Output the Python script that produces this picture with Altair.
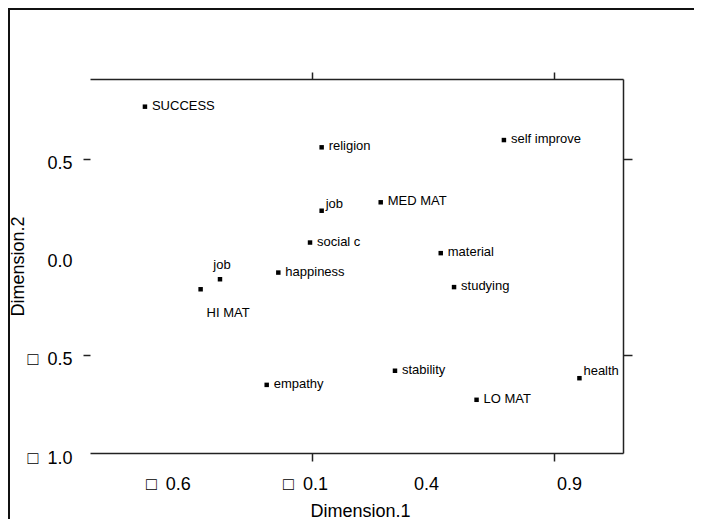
import altair as alt
import pandas as pd

labels = ["SUCCESS", "religion", "job", "social c", "happiness", "job", "HI MAT",
          "self improve", "MED MAT", "material", "studying", " stability", " LO MAT",
          "health", "empathy"]
dim1 = [-0.790, -0.060, -0.060, -0.108, -0.239, -0.480, -0.560,
        0.693, 0.184, 0.432, 0.487, 0.243, 0.580, 1.005, -0.287]
dim2 = [0.764, 0.557, 0.234, 0.072, -0.081, -0.115, -0.166,
        0.594, 0.277, 0.018, -0.155, -0.581, -0.729, -0.619, -0.653]
x_ticks = [-0.6, -0.1, 0.4, 0.9]
y_ticks = [0.5, 0.0, -0.5, -1.0]
x_marked = [-0.1, 0.9]
y_marked = [0.5, -0.5]

special = {2: "upright", 13: "upright", 5: "above", 6: "below"}
df = pd.DataFrame({"label": labels, "dim1": dim1, "dim2": dim2})
df["place"] = [special.get(i, "right") for i in range(len(df))]

FONT = "Liberation Sans"
INK = "#222222"
xs = alt.Scale(domain=[-1.017, 1.185], nice=False, zero=False)
ys = alt.Scale(domain=[-1.0, 0.905], nice=False, zero=False)

lab_expr = "(datum.value < 0 ? '\u25a1\u2002' : '') + format(abs(datum.value), '.1f')"

bottom_axis = alt.Axis(
    orient="bottom", values=x_ticks, grid=False,
    domain=True, domainColor=INK, domainWidth=1.5,
    ticks=True, tickColor=INK, tickWidth=1.5, tickSize=8,
    tickOpacity={"condition": {"test": "abs(datum.value + 0.1) < 0.01 || abs(datum.value - 0.9) < 0.01", "value": 1}, "value": 0},
    labelExpr=lab_expr, labelFont=FONT, labelFontSize=18, labelColor="black",
    labelPadding=14, labelFlush=False, labelOverlap=False,
    labelOffset={"condition": [{"test": "datum.value < -0.3", "value": -23},
                               {"test": "datum.value > 0.6", "value": 15}], "value": -7},
    title="Dimension.1", titleFont=FONT, titleFontSize=18, titleFontWeight="normal",
    titleColor="black", titleX=270, titleY=63, titleBaseline="alphabetic", titleAlign="center",
)
left_axis = alt.Axis(
    orient="left", values=y_ticks, grid=False,
    domain=False,
    ticks=True, tickColor=INK, tickWidth=1.5, tickSize=7,
    tickOpacity={"condition": {"test": "abs(abs(datum.value) - 0.5) < 0.01", "value": 1}, "value": 0},
    labelExpr=lab_expr, labelFont=FONT, labelFontSize=18, labelColor="black",
    labelPadding=11, labelOffset=5, labelFlush=False, labelOverlap=False,
    title="Dimension.2", titleFont=FONT, titleFontSize=18, titleFontWeight="normal",
    titleColor="black", titleX=-72, titleY=187, titleAngle=270,
    titleBaseline="middle", titleAlign="center",
)
top_axis = alt.Axis(
    orient="top", values=x_marked, grid=False, labels=False,
    domain=True, domainColor=INK, domainWidth=1.5,
    ticks=True, tickColor=INK, tickWidth=1.5, tickSize=7, title="",
)
right_axis = alt.Axis(
    orient="right", values=y_marked, grid=False, labels=False,
    domain=True, domainColor=INK, domainWidth=1.5,
    ticks=True, tickColor=INK, tickWidth=1.5, tickSize=9, title="",
)

base = alt.Chart(df)

points = base.mark_square(size=20, color="black", opacity=1).encode(
    x=alt.X("dim1:Q", scale=xs, axis=bottom_axis),
    y=alt.Y("dim2:Q", scale=ys, axis=left_axis),
)
frame_axes = base.mark_square(size=1, opacity=0).encode(
    x=alt.X("dim1:Q", scale=xs, axis=top_axis),
    y=alt.Y("dim2:Q", scale=ys, axis=right_axis),
)


def text_layer(place, **kw):
    return base.transform_filter(f"datum.place == '{place}'").mark_text(
        font=FONT, fontSize=13, color="black", **kw
    ).encode(
        x=alt.X("dim1:Q", scale=xs, axis=None),
        y=alt.Y("dim2:Q", scale=ys, axis=None),
        text="label:N",
    )


t_right = text_layer("right", align="left", baseline="middle", dx=7, dy=-1)
t_upright = text_layer("upright", align="left", baseline="middle", dx=4, dy=-7)
t_above = text_layer("above", align="center", baseline="middle", dx=2, dy=-14)
t_below = text_layer("below", align="left", baseline="middle", dx=6, dy=24)

one = alt.Chart(pd.DataFrame({"a": [0]}))
frame_top = one.mark_rule(color="#111111", strokeWidth=2).encode(
    x=alt.value(-82), x2=alt.value(604), y=alt.value(-70), y2=alt.value(-70))
other = alt.Chart(pd.DataFrame({"b": [1]}))
frame_left = other.mark_rect(color="#111111", opacity=1).encode(
    x=alt.value(-82), x2=alt.value(-80), y=alt.value(-71), y2=alt.value(440))

chart = alt.layer(
    points, frame_axes, t_right, t_upright, t_above, t_below, frame_top, frame_left
).resolve_axis(x="independent", y="independent").properties(
    width=533, height=374,
    padding={"left": 82, "top": 71, "right": 71, "bottom": 66},
    autosize=alt.AutoSizeParams(type="none"),
    background="white",
).configure_view(stroke="transparent")

chart.save("out.html", embed_options={"renderer": "svg", "actions": False})
